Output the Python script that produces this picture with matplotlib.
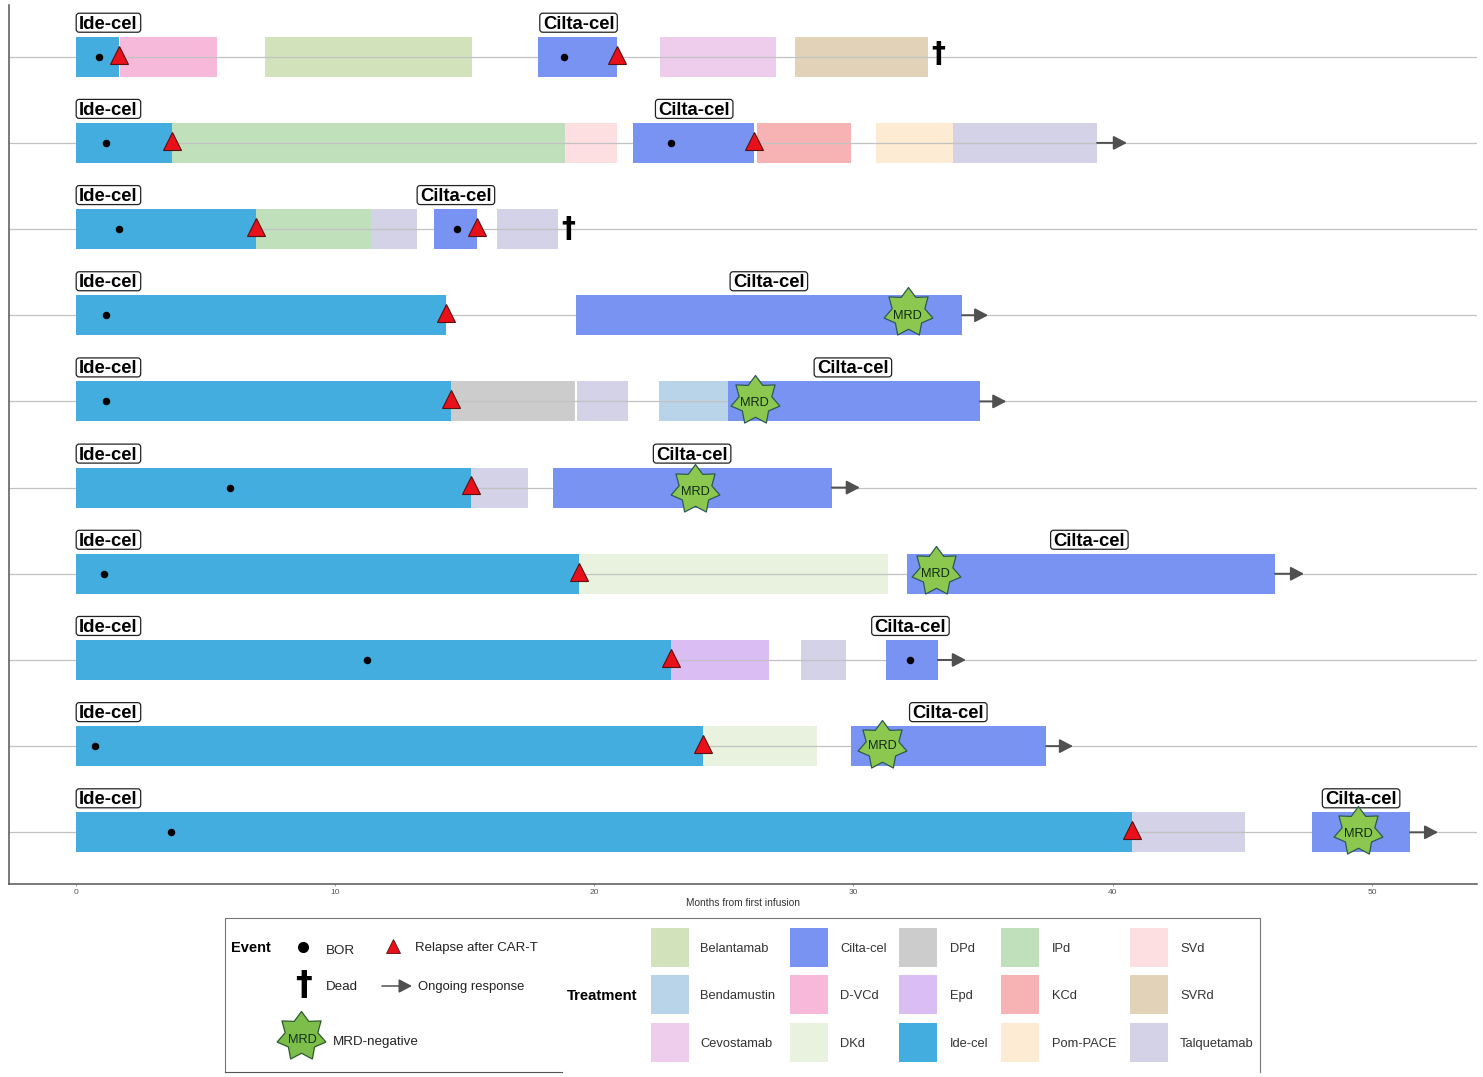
import numpy as np
import matplotlib
matplotlib.use("Agg")
import matplotlib.pyplot as plt
from matplotlib.path import Path
from matplotlib.patches import Rectangle, BoxStyle

plt.rcParams['font.family'] = ['Liberation Sans', 'DejaVu Sans']

W, H = 1483, 1077

treatments = ["Belantamab", "Bendamustin", "Cevostamab", "Cilta-cel", "D-VCd", "DKd", "DPd", "Epd",
              "Ide-cel", "IPd", "KCd", "Pom-PACE", "SVd", "SVRd", "Talquetamab"]
treatment_colors = ["#D2E3BC", "#B9D3E8", "#EECDEC", "#7893F2", "#F6B9D9", "#E8F2DF", "#CCCCCC", "#DABDF3",
                    "#42ADDE", "#C0E0BC", "#F7B3B3", "#FDEBD3", "#FDDFE2", "#E2D3B8", "#D3D2E7"]

# one row per patient, top to bottom
seg_patient = [1,1,1,1,1,1, 2,2,2,2,2,2,2, 3,3,3,3,3, 4,4, 5,5,5,5,5, 6,6,6, 7,7,7, 8,8,8,8, 9,9,9, 10,10,10]
seg_treatment = ["Ide-cel","D-VCd","Belantamab","Cilta-cel","Cevostamab","SVRd",
                 "Ide-cel","IPd","SVd","Cilta-cel","KCd","Pom-PACE","Talquetamab",
                 "Ide-cel","IPd","Talquetamab","Cilta-cel","Talquetamab",
                 "Ide-cel","Cilta-cel",
                 "Ide-cel","DPd","Talquetamab","Bendamustin","Cilta-cel",
                 "Ide-cel","Talquetamab","Cilta-cel",
                 "Ide-cel","DKd","Cilta-cel",
                 "Ide-cel","Epd","Talquetamab","Cilta-cel",
                 "Ide-cel","DKd","Cilta-cel",
                 "Ide-cel","Talquetamab","Cilta-cel"]
seg_start = [0,1.72,7.31,17.84,22.54,27.75,
             0,3.72,18.88,21.5,26.3,30.87,33.84,
             0,6.96,11.4,13.83,16.25,
             0,19.3,
             0,14.48,19.34,22.5,25.16,
             0,15.25,18.4,
             0,19.42,32.07,
             0,22.97,27.98,31.26,
             0,24.2,29.9,
             0,40.75,47.7]
seg_end = [1.68,5.45,15.29,20.88,27.0,32.88,
           3.72,18.88,20.88,26.17,29.9,33.84,39.4,
           6.96,11.4,13.17,15.48,18.6,
           14.29,34.19,
           14.48,19.26,21.3,25.16,34.88,
           15.25,17.45,29.17,
           19.42,31.33,46.26,
           22.97,26.75,29.7,33.26,
           24.2,28.6,37.43,
           40.75,45.1,51.47]

bor_patient = [1,1,2,2,3,3,4,5,6,7,8,8,9,10]
bor_time = [0.9,18.84,1.18,22.96,1.68,14.71,1.18,1.18,5.96,1.1,11.24,32.2,0.75,3.68]
relapse_patient = [1,1,2,2,3,3,4,5,6,7,8,9,10]
relapse_time = [1.68,20.88,3.72,26.17,6.96,15.48,14.29,14.48,15.25,19.42,22.97,24.2,40.75]
mrd_patient = [4,5,6,7,9,10]
mrd_time = [32.1,26.2,23.9,33.18,31.1,49.46]
mrd_star_shift = [0.035,0.012,-0.012,0.035,0.012,0.015]
mrd_text_shift = [-0.012,-0.024,-0.055,-0.004,0.0,-0.024]
dead_patient = [1,3]
dead_time = [33.26,19.0]
dead_shift = [0.03,-0.005]
ongoing_patient = [2,4,5,6,7,8,9,10]
ongoing_from = [39.4,34.19,34.88,29.17,46.26,33.26,37.43,51.47]
ongoing_to = [40.55,35.2,35.9,30.25,47.38,34.34,38.47,52.55]
ide_label_time = [1.27]*10
cilta_label_time = [19.4,23.86,14.67,26.74,29.98,23.78,39.1,32.2,33.66,49.58]
xticks = [0,10,20,30,40,50]

colour = dict(zip(treatments, treatment_colors))
ypos = lambda p: 10 - p

fig = plt.figure(figsize=(W/100, H/100), dpi=100)
ax_l, ax_r, ax_t, ax_b = 9, 1477, 5, 884
ax = fig.add_axes([ax_l/W, 1-ax_b/H, (ax_r-ax_l)/W, (ax_b-ax_t)/H])
ax.set_xlim(-2.565, 54.05)
ax.set_ylim(-0.6, 9.6)

for s in ['top', 'right']:
    ax.spines[s].set_visible(False)
for s in ['left', 'bottom']:
    ax.spines[s].set_color('#555555')
    ax.spines[s].set_linewidth(1.1)
ax.set_yticks([])
ax.set_xticks(xticks)
ax.tick_params(axis='x', length=1.5, width=0.5, color='#777777', labelsize=6, labelcolor='#555555', pad=2)
ax.set_xlabel("Months from first infusion", fontsize=7.3, color='#333333', labelpad=1.5)

for p in range(1, 11):
    ax.axhline(ypos(p), color='#c2c2c2', lw=0.9, zorder=1)

BAR_H = 0.464
for p, t, a, b in zip(seg_patient, seg_treatment, seg_start, seg_end):
    z = 2 if t in ("Ide-cel", "Cilta-cel") else 0.5
    ax.barh(ypos(p), b-a, left=a, height=BAR_H, color=colour[t], lw=0, zorder=z)

arrow_style = '-|>,head_length=0.8,head_width=0.42'
for p, a, b in zip(ongoing_patient, ongoing_from, ongoing_to):
    ax.annotate("", xy=(b, ypos(p)), xytext=(a, ypos(p)), zorder=3,
                arrowprops=dict(arrowstyle=arrow_style, color='#505050', lw=1.4, shrinkA=0, shrinkB=0))

ax.plot(bor_time, [ypos(p) for p in bor_patient], 'o', color='black', ms=5.4, mew=0, zorder=4)
ax.plot(relapse_time, [ypos(p)+0.025 for p in relapse_patient], '^', color='#E8101A', mec='#5a1010', mew=0.8,
        ms=12.5, zorder=5, ls='none')


def star_path(n=7, inner=0.67):
    ang = np.pi/2 + np.arange(2*n)*np.pi/n
    rad = np.where(np.arange(2*n) % 2 == 0, 1.0, inner)
    v = np.c_[rad*np.cos(ang), rad*np.sin(ang)]
    return Path(np.vstack([v, v[:1]]), closed=True)


STAR = star_path()
ax.plot(mrd_time, [ypos(p)+d for p, d in zip(mrd_patient, mrd_star_shift)], ls='none', marker=STAR, ms=36,
        mfc='#8CC850', mec='#2c5a52', mew=0.9, zorder=6)
for p, t, d in zip(mrd_patient, mrd_time, mrd_text_shift):
    ax.text(t, ypos(p)+d, "MRD", ha='center', va='center', fontsize=9.2, color='#0f2a14', zorder=7)

for p, t, d in zip(dead_patient, dead_time, dead_shift):
    ax.text(t, ypos(p)+d, "\u2020", ha='center', va='center', fontsize=20, fontweight='bold',
            family=['DejaVu Sans'], color='black', zorder=6)


def label_box(x, y, w, h, m):
    return BoxStyle.Round(pad=0, rounding_size=3/m)(x-3, y+0.5, w+6, h+2, m)


lab_box = dict(boxstyle=label_box, fc='white', ec='#222222', lw=0.9)
for p, (ti, tc) in enumerate(zip(ide_label_time, cilta_label_time), start=1):
    for t, s in ((ti, "Ide-cel"), (tc, "Cilta-cel")):
        ax.text(t, ypos(p)+0.377, s, ha='center', va='center', fontsize=13.3, fontweight='bold',
                color='black', bbox=lab_box, zorder=5.5)

# legend panel, laid out in pixels of the image
lg = fig.add_axes([0, 0, 1, 1], facecolor='none')
lg.set_xlim(0, W)
lg.set_ylim(H, 0)
lg.axis('off')
lg.plot([225, 225, 1260, 1260], [1072, 918, 918, 1072], color='#777777', lw=0.8)
lg.plot([225, 562], [1072, 1072], color='#555555', lw=0.8)

lg.text(231, 948.5, "Event", fontsize=10.5, fontweight='bold', va='center')
lg.text(567, 996, "Treatment", fontsize=10.7, fontweight='bold', va='center')
lg.plot([303], [947], 'o', color='black', ms=8, mew=0)
lg.text(326, 950.5, "BOR", fontsize=9.6, va='center', color='#222222')
lg.plot([393], [945.5], '^', color='#E8101A', mec='#5a1010', mew=0.6, ms=10.5)
lg.text(415, 948.5, "Relapse after CAR-T", fontsize=9.5, va='center', color='#222222')
lg.text(303, 985, "\u2020", fontsize=24, fontweight='bold', family=['DejaVu Sans'], ha='center', va='center')
lg.text(326, 987.5, "Dead", fontsize=9.6, va='center', color='#222222')
lg.annotate("", xy=(412, 986), xytext=(382, 986),
            arrowprops=dict(arrowstyle=arrow_style, color='#505050', lw=1.1, shrinkA=0, shrinkB=0))
lg.text(418, 987, "Ongoing response", fontsize=9.4, va='center', color='#222222')
lg.plot([301], [1036], marker=STAR, ms=36, mfc='#7DBE4A', mec='#2c5a2a', mew=0.9, ls='none')
lg.text(302, 1040, "MRD", fontsize=9.2, ha='center', va='center', color='#10301a')
lg.text(333, 1042, "MRD-negative", fontsize=9.6, va='center', color='#222222')

col_x = [651, 790, 899, 1001, 1130]
lab_x = [700, 840, 950, 1052, 1180]
row_y = [928, 975, 1023]
for i, t in enumerate(treatments):
    c, r = i//3, i % 3
    lg.add_patch(Rectangle((col_x[c], row_y[r]), 38, 39, fc=colour[t], ec='none'))
    lg.text(lab_x[c], row_y[r]+21, t, fontsize=9.3, va='center', color='#333333')

fig.savefig("out.png", dpi=100, facecolor='white')
